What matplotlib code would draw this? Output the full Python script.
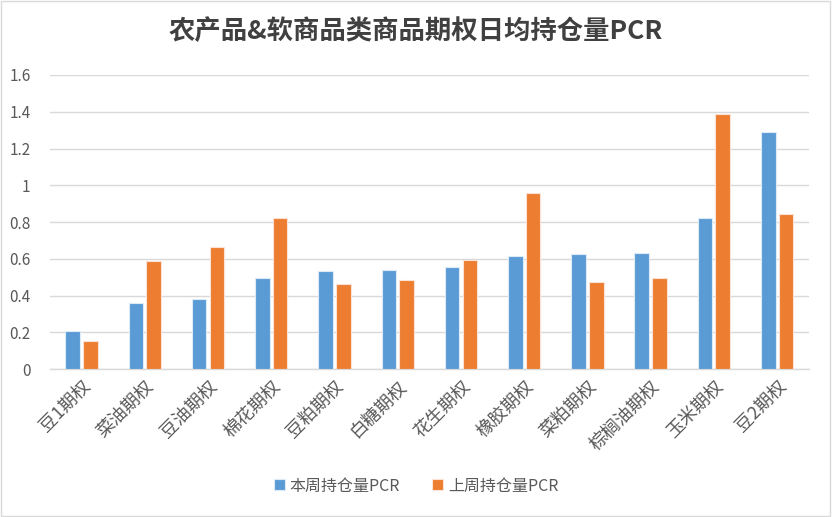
import matplotlib.pyplot as plt
import numpy as np
from matplotlib.patches import Rectangle

plt.rcParams['font.family'] = ['Noto Sans CJK SC', 'DejaVu Sans']

categories = ['豆1期权', '菜油期权', '豆油期权', '棉花期权', '豆粕期权', '白糖期权',
              '花生期权', '橡胶期权', '菜粕期权', '棕榈油期权', '玉米期权', '豆2期权']
this_week = [0.210, 0.359, 0.381, 0.493, 0.533, 0.537, 0.555, 0.613, 0.626, 0.631, 0.822, 1.292]
last_week = [0.154, 0.588, 0.662, 0.822, 0.461, 0.484, 0.591, 0.958, 0.473, 0.493, 1.386, 0.845]
yticks = [0, 0.2, 0.4, 0.6, 0.8, 1, 1.2, 1.4, 1.6]
ytick_labels = ['0', '0.2', '0.4', '0.6', '0.8', '1', '1.2', '1.4', '1.6']

fig = plt.figure(figsize=(8.32, 5.17), dpi=100)
ax = fig.add_axes([0.060, 0.286, 0.912, 0.569])

x = np.arange(len(categories))
w = 0.23
ax.bar(x - 0.14, this_week, w, color='#5B9BD5', edgecolor='#DDEBF7', linewidth=0.8,
       label='本周持仓量PCR', zorder=3)
ax.bar(x + 0.14, last_week, w, color='#ED7D31', edgecolor='#FBE2D5', linewidth=0.8,
       label='上周持仓量PCR', zorder=3)

ax.set_xlim(-0.5, len(categories) - 0.5)
ax.set_ylim(0, 1.6)
ax.set_yticks(yticks)
ax.set_yticklabels(ytick_labels, fontsize=11, color='#595959')
ax.set_xticks(x)
ax.set_xticklabels(categories, rotation=45, ha='right', rotation_mode='anchor',
                   fontsize=13, color='#595959')
ax.tick_params(axis='both', length=0, pad=6)
ax.tick_params(axis='y', pad=14)
ax.yaxis.grid(True, color='#D9D9D9', linewidth=1, zorder=0)
for s in ['top', 'right', 'left']:
    ax.spines[s].set_visible(False)
ax.spines['bottom'].set_color('#D9D9D9')
ax.spines['bottom'].set_linewidth(1)

fig.suptitle('农产品&软商品类商品期权日均持仓量PCR', y=0.965, fontsize=19,
             fontweight='bold', color='#404040')

fig.legend(loc='center', bbox_to_anchor=(0.5, 0.06), ncol=2, frameon=False,
           fontsize=11.5, labelcolor='#595959', handlelength=0.7, handleheight=0.7,
           handletextpad=0.3, columnspacing=2.0)

fig.patches.append(Rectangle((0.001, 0.001), 0.997, 0.997, transform=fig.transFigure,
                             fill=False, edgecolor='#D9D9D9', linewidth=1))

fig.savefig('out.png', dpi=100)
